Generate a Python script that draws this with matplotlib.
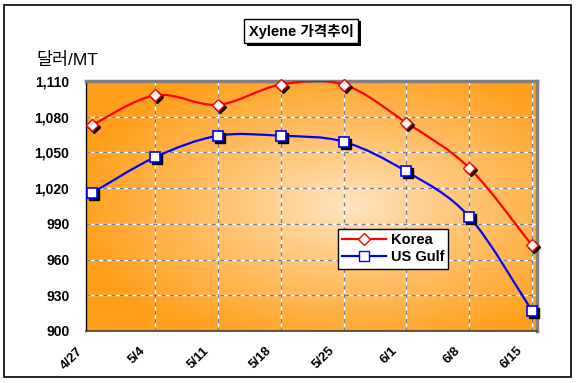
import numpy as np
import matplotlib
matplotlib.use("Agg")
import matplotlib.pyplot as plt
import matplotlib.patheffects as pe
from matplotlib.path import Path
from matplotlib.patches import PathPatch, Rectangle
from matplotlib.lines import Line2D
from matplotlib.transforms import offset_copy, ScaledTranslation

dates = ["4/27", "5/4", "5/11", "5/18", "5/25", "6/1", "6/8", "6/15"]
korea = [1073, 1098, 1090, 1107, 1107, 1075, 1037, 972]
us_gulf = [1016, 1046, 1064, 1064, 1059, 1034, 996, 917]
y_ticks = [900, 930, 960, 990, 1020, 1050, 1080, 1110]

plt.rcParams["font.family"] = ["Liberation Sans", "Noto Sans CJK KR", "DejaVu Sans"]


def smooth_path(xs, ys):
    # excel-like smoothed line: catmull-rom turned into bezier segments
    pts = np.column_stack([xs, ys]).astype(float)
    ext = np.vstack([pts[0], pts, pts[-1]])
    verts = [pts[0]]
    codes = [Path.MOVETO]
    for i in range(len(pts) - 1):
        p0, p1, p2, p3 = ext[i], ext[i + 1], ext[i + 2], ext[i + 3]
        verts += [p1 + (p2 - p0) / 6, p2 - (p3 - p1) / 6, p2]
        codes += [Path.CURVE4] * 3
    return Path(verts, codes)


fig = plt.figure(figsize=(5.76, 3.83), dpi=100)
ax = fig.add_axes([0.1493, 0.1358, 0.783, 0.6527])
x = np.arange(len(dates))

# orange "from center" gradient background
gx, gy = np.meshgrid(np.linspace(0, 1, 300), np.linspace(0, 1, 200))
r = np.clip(np.sqrt(((gx - 0.58) / 0.62) ** 2 + ((gy - 0.5) / 0.6) ** 2), 0, 1)
c_center = np.array([255, 230, 195]) / 255
c_edge = np.array([255, 158, 25]) / 255
img = c_center + (c_edge - c_center) * r[..., None] ** 0.9
ax.imshow(img, extent=(0, 1, 0, 1), transform=ax.transAxes, origin="lower",
          aspect="auto", zorder=0)

ax.set_xlim(-0.1, 7.08)
ax.set_ylim(900, 1110)

for v in y_ticks[1:-1]:
    ax.axhline(v, color="white", lw=1, zorder=1)
    ax.axhline(v, color="#808080", lw=1, ls=(0, (3, 3)), zorder=1.1)
for xi in x[1:]:
    ax.axvline(xi, color="white", lw=1, zorder=1)
    ax.axvline(xi, color="#808080", lw=1, ls=(0, (3, 3)), zorder=1.1)

ax.add_patch(PathPatch(smooth_path(x, korea), fill=False, edgecolor="red", lw=1.6, zorder=3))
ax.add_patch(PathPatch(smooth_path(x, us_gulf), fill=False, edgecolor="blue", lw=1.6, zorder=3))

shadow = offset_copy(ax.transData, fig=fig, x=2, y=-2, units="dots")
ax.plot(x, korea, ls="none", marker="D", ms=6.5, color="black", transform=shadow, zorder=4, clip_on=False)
ax.plot(x, us_gulf, ls="none", marker="s", ms=7, color="black", transform=shadow, zorder=4, clip_on=False)
ax.plot(x, korea, ls="none", marker="D", ms=6.5, mfc="white", mec="red", mew=1, zorder=5, clip_on=False)
ax.plot(x, us_gulf, ls="none", marker="s", ms=7, mfc="white", mec="blue", mew=1.2, zorder=5, clip_on=False)

ax.spines["left"].set_color("black")
ax.spines["left"].set_linewidth(1)
ax.spines["bottom"].set_color("#404040")
ax.spines["bottom"].set_linewidth(1.2)
for s in ["top", "right"]:
    ax.spines[s].set_color("#808080")
    ax.spines[s].set_linewidth(2.5)

ax.set_yticks(y_ticks)
ax.set_yticklabels([f"{v:,}" for v in y_ticks], fontweight="bold", fontsize=10)
ax.tick_params(axis="y", length=0, pad=12)
ax.set_xticks(x)
ax.set_xticklabels(dates, rotation=45, ha="right", va="top", fontweight="bold", fontsize=9.5)
ax.tick_params(axis="x", length=0, pad=10)
for lbl in ax.get_xticklabels():
    lbl.set_transform(lbl.get_transform() + ScaledTranslation(-5 / 72, 0, fig.dpi_scale_trans))

handles = [Line2D([], [], color="red", lw=1.6, marker="D", ms=6.5, mfc="white", mec="red"),
           Line2D([], [], color="blue", lw=1.6, marker="s", ms=7, mfc="white", mec="blue")]
leg = ax.legend(handles, ["Korea", "US Gulf"], loc="upper left", bbox_to_anchor=(0.559, 0.408),
                fancybox=False, edgecolor="black", framealpha=1,
                prop={"weight": "bold", "size": 10.5}, handlelength=3.0, borderpad=0.3,
                labelspacing=0.2, handletextpad=0.3, borderaxespad=0)
leg.get_frame().set_linewidth(1)
leg.set_zorder(6)

title = fig.text(0.5226, 0.919, "Xylene 가격추이", ha="center", va="center", fontsize=10.5,
                 fontweight="bold",
                 bbox=dict(boxstyle="square,pad=0.33", fc="white", ec="black", lw=1))
title.get_bbox_patch().set_path_effects([
    pe.SimplePatchShadow(offset=(2, -2), shadow_rgbFace="black", alpha=1), pe.Normal()])

fig.text(36 / 576, 1 - 60 / 383, "달러/MT", ha="left", va="center", fontsize=12.5)

fig.patches.append(Rectangle((4 / 576, 6 / 383), 567 / 576, 372 / 383, transform=fig.transFigure,
                             fill=False, ec="black", lw=1.2))

fig.savefig("out.png", dpi=100)
